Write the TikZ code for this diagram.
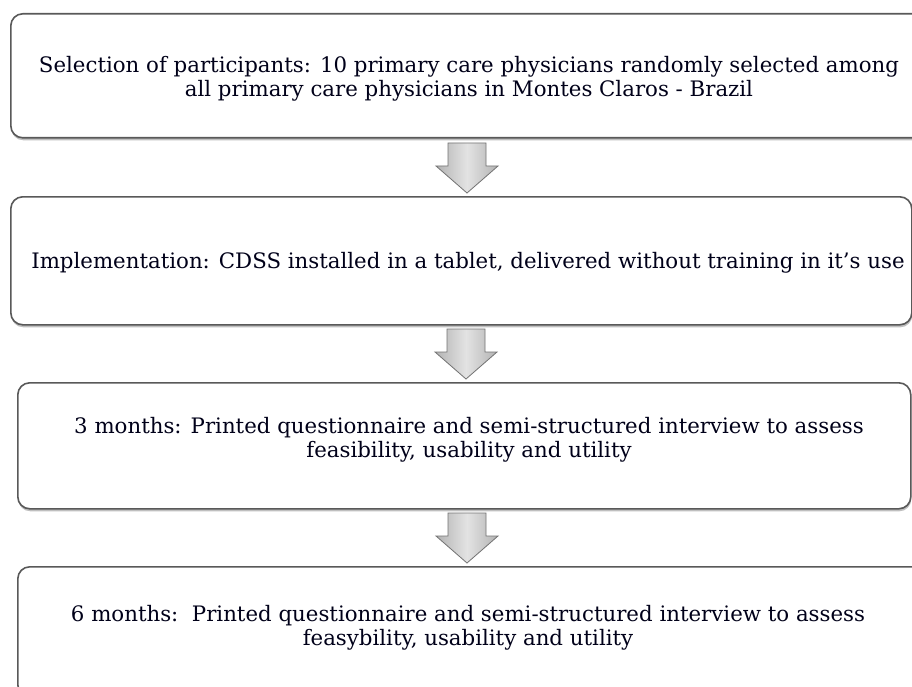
\documentclass[tikz,border=0pt]{standalone}
\usepackage{fontspec}
\setmainfont{DejaVu Serif}
\usetikzlibrary{shadows,calc}
\begin{document}
\begin{tikzpicture}[x=1pt,y=-1pt,
  boxst/.style={draw=black!65, line width=1.6pt, rounded corners=12pt, fill=white,
     drop shadow={shadow xshift=0.5pt, shadow yshift=-2.5pt, opacity=0.25, fill=black}},
  txt/.style={align=center, text=black!90!blue, font=\fontsize{21.3}{24.5}\selectfont, inner sep=0pt},
  darr/.style={draw=black!55, line width=0.8pt, line join=miter,
     left color=gray!60, right color=gray!60, middle color=gray!22}]
\useasboundingbox (0,0) rectangle (912,687);
\clip (0,0) rectangle (912,687);
\fill[white] (0,0) rectangle (912,687);
% boxes
\node[boxst, minimum width=915pt, minimum height=124pt, anchor=north west] (b1) at (10,13) {};
\node[boxst, minimum width=901pt, minimum height=128pt, anchor=north west] (b2) at (10,196) {};
\node[boxst, minimum width=893pt, minimum height=126pt, anchor=north west] (b3) at (17,382) {};
\node[boxst, minimum width=908pt, minimum height=130pt, anchor=north west] (b4) at (17,566) {};
% texts
\node[txt] (t1) at (469,79) {Selection of participants: 10 primary care physicians randomly selected among\\all primary care physicians in Montes Claros - Brazil};
\node[txt] (t2) at (468,263) {Implementation: CDSS installed in a tablet, delivered without training in it’s use};
\node[txt] (t3) at (469,440) {3 months: Printed questionnaire and semi-structured interview to assess\\feasibility, usability and utility};
\node[txt] (t4) at (468,628) {6 months:\ \ Printed questionnaire and semi-structured interview to assess\\feasybility, usability and utility};
% arrows (block arrows between boxes)
\coordinate (a1) at (467,143);
\coordinate (a2) at (466,329);
\coordinate (a3) at (467,513);
\foreach \a in {a1,a2,a3}{
  \path[darr] ($(\a)+(-19,0)$) -- ($(\a)+(19,0)$) -- ($(\a)+(19,23)$) -- ($(\a)+(31,23)$)
     -- ($(\a)+(0,50)$) -- ($(\a)+(-31,23)$) -- ($(\a)+(-19,23)$) -- cycle;
}
\end{tikzpicture}
\end{document}
